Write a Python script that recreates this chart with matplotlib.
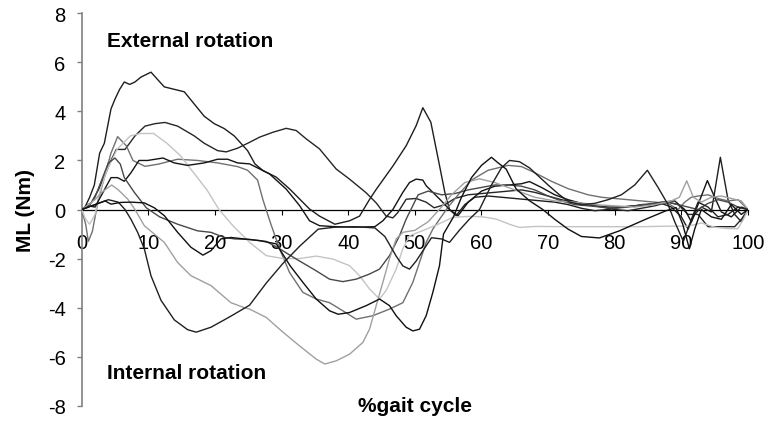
import matplotlib
matplotlib.use("Agg")
import matplotlib.pyplot as plt

plt.rcParams['font.family'] = ['Liberation Sans', 'DejaVu Sans']
plt.rcParams['axes.unicode_minus'] = False

# --- data (x = % gait cycle, y = ML in Nm) ---
a_x = [0, 0.5, 1.2, 1.9, 2.7, 3.4, 4.4, 5.0, 5.7, 6.4, 7.2, 8.0, 8.9, 10.4, 11.4, 12.4, 13.9, 15.4, 16.9, 18.4,
       19.9, 21.4, 22.9, 24.9, 26.0, 27.2, 29.2, 31.2, 32.7, 34.2, 35.7, 38.0, 40.2, 41.7, 43.2, 44.2, 46.7, 48.7,
       50.2, 51.2, 52.4, 53.7, 54.5, 55.2, 56.2, 57.5, 59.0, 61.0, 63.0, 65.0, 67.0, 69.0, 71.0, 73.0, 75.0, 77.0,
       79.0, 81.0, 83.0, 85.0, 87.0, 88.5, 90.0, 91.0, 92.0, 93.0, 94.5, 95.85, 97.0, 98.0, 99.0, 100]
a_y = [0, 0.1, 0.5, 1.0, 2.3, 2.7, 4.1, 4.5, 4.9, 5.2, 5.1, 5.2, 5.4, 5.6, 5.3, 5.0, 4.9, 4.8, 4.3, 3.8,
       3.5, 3.3, 3.0, 2.4, 1.86, 1.59, 1.32, 0.84, 0.43, 0.02, -0.27, -0.6, -0.46, -0.27, 0.41, 0.82, 1.77, 2.6,
       3.42, 4.15, 3.56, 1.8, 0.7, 0.0, -0.25, 0.2, 0.5, 0.55, 0.5, 0.45, 0.4, 0.35, 0.3, 0.2, 0.05, -0.05,
       0.0, 0.1, 0.15, 0.2, 0.25, 0.1, -0.3, -0.8, -0.2, 0.1, -0.1, 2.13, 0.4, -0.2, -0.5, 0]

b_x = [0, 1.5, 2.5, 3.5, 4.4, 5.2, 6.5, 8.0, 9.5, 11.0, 12.5, 14.4, 16.9, 18.4, 20.4, 21.7, 23.4, 25.2, 26.7,
       28.7, 30.7, 32.2, 33.7, 35.7, 38.2, 40.2, 42.7, 44.2, 45.7, 46.7, 47.4, 48.7, 50.2, 51.7, 52.9, 54.5,
       56.0, 58.0, 60.0, 62.0, 64.0, 66.0, 68.0, 70.0, 72.0, 74.0, 76.0, 78.0, 80.0, 82.0, 84.0, 86.0, 88.0,
       89.5, 91.0, 92.5, 94.0, 96.0, 98.0, 99.0, 100]
b_y = [0, 0.3, 0.8, 1.4, 2.0, 2.45, 2.45, 3.0, 3.4, 3.5, 3.55, 3.4, 3.0, 2.7, 2.4, 2.35, 2.5, 2.74, 2.95,
       3.15, 3.31, 3.22, 2.88, 2.47, 1.65, 1.24, 0.68, 0.27, -0.27, -0.34, -0.14, 0.42, 0.45, 0.3, 0.07, 0.2,
       0.45, 0.6, 0.65, 0.7, 0.75, 0.8, 0.7, 0.55, 0.4, 0.3, 0.2, 0.1, 0.0, -0.05, 0.05, 0.15, 0.3,
       0.2, -0.2, -0.2, -0.7, -0.7, -0.7, -0.4, 0]

c_x = [0, 0.6, 1.0, 1.6, 2.5, 3.5, 4.4, 5.4, 6.7, 7.7, 9.5, 11.5, 14.4, 17.4, 20.4, 23.4, 24.9, 26.4, 27.2,
       28.4, 29.7, 31.2, 33.2, 35.2, 37.2, 39.2, 41.2, 43.7, 46.2, 48.2, 49.7, 50.7, 51.7, 52.7, 53.7, 55.0,
       56.5, 58.5, 61.0, 64.0, 66.0, 68.0, 70.5, 73.0, 76.0, 78.0, 80.0, 82.0, 84.0, 86.0, 88.0, 89.5, 90.5,
       91.5, 92.5, 94.0, 95.5, 97.0, 98.5, 100]
c_y = [0, -0.6, -1.3, -0.9, 0.4, 1.4, 2.3, 2.97, 2.6, 2.0, 1.76, 1.85, 2.05, 2.0, 1.9, 1.75, 1.6, 1.2, 0.4,
       -0.6, -1.6, -2.57, -3.38, -3.65, -3.8, -4.13, -4.47, -4.33, -4.06, -3.8, -2.97, -2.16, -1.34, -0.8, -0.4, 0.1,
       0.6, 1.2, 1.6, 1.8, 1.75, 1.5, 1.15, 0.85, 0.6, 0.5, 0.45, 0.4, 0.35, 0.3, 0.25, 0.0, 0.3,
       0.5, 0.55, 0.6, 0.45, 0.35, 0.4, 0]

d_x = [0, 0.6, 1.2, 2.0, 2.8, 3.8, 5.3, 7.3, 8.8, 10.8, 12.8, 14.8, 16.8, 18.8, 20.6, 22.7, 25.2, 27.7, 30.2,
       32.7, 35.2, 37.7, 40.2, 41.7, 43.2, 44.7, 45.7, 47.2, 48.2, 49.2, 51.2, 53.5, 55.7, 58.2, 60.2, 62.2,
       64.2, 65.7, 68.2, 72.0, 76.0, 80.0, 84.0, 88.0, 91.0, 93.0, 95.0, 97.0, 98.5, 99.3, 100]
d_y = [0, -0.4, -0.6, -0.2, 0.8, 1.6, 2.45, 3.0, 3.1, 3.1, 2.7, 2.2, 1.5, 0.8, 0.0, -0.66, -1.34, -1.88, -2.0,
       -2.0, -1.9, -2.02, -2.29, -2.7, -3.24, -3.65, -3.3, -2.43, -1.6, -1.07, -0.86, -0.6, -0.32, -0.28, -0.3, -0.39,
       -0.6, -0.73, -0.69, -0.7, -0.7, -0.7, -0.7, -0.68, -0.68, -0.55, -0.72, -0.78, -0.78, -0.4, 0]

e_x = [0, 1.0, 2.0, 3.0, 4.4, 5.4, 6.4, 7.4, 8.6, 9.9, 12.2, 13.9, 15.9, 18.4, 20.4, 21.9, 23.4, 25.2, 28.2,
       30.7, 32.7, 34.2, 35.7, 38.0, 41.0, 44.0, 45.2, 46.7, 48.2, 49.2, 50.2, 51.2, 51.7, 53.7, 55.2, 56.5,
       58.0, 60.0, 62.0, 64.0, 66.0, 67.2, 69.0, 71.0, 73.0, 75.0, 77.0, 79.0, 81.0, 83.0, 85.0, 87.0, 89.0,
       90.5, 91.5, 92.5, 93.9, 95.0, 96.0, 97.5, 99.0, 100]
e_y = [0, 0.15, 0.1, 0.6, 1.3, 1.3, 1.15, 1.5, 2.0, 2.0, 2.1, 1.9, 1.8, 1.9, 2.05, 2.05, 1.9, 1.86, 1.45,
       0.83, 0.16, -0.46, -0.66, -0.7, -0.72, -0.7, -0.46, 0.0, 0.7, 1.1, 1.24, 1.2, 0.97, 0.43, 0.0, -0.25,
       0.3, 0.75, 0.95, 1.0, 1.05, 1.14, 0.9, 0.6, 0.4, 0.25, 0.15, 0.1, 0.1, 0.15, 0.2, 0.3, 0.35,
       0.0, -0.5, 0.2, 1.18, 0.5, -0.1, -0.3, 0.1, 0]

f_x = [0, 1.0, 2.0, 3.0, 4.0, 5.0, 5.8, 6.4, 7.9, 9.7, 11.7, 14.4, 17.4, 19.4, 21.4, 23.0, 25.2, 27.7, 29.7,
       32.2, 35.2, 37.2, 39.2, 41.2, 43.2, 44.7, 46.2, 47.7, 48.7, 49.7, 50.5, 52.0, 54.0, 56.0, 58.0, 60.0,
       62.0, 64.0, 66.0, 68.0, 70.0, 72.0, 74.0, 76.0, 78.0, 80.0, 82.0, 84.0, 86.0, 88.0, 89.5, 91.0, 92.5,
       94.0, 95.5, 97.0, 98.5, 100]
f_y = [0, 0.1, 0.5, 1.2, 1.9, 2.1, 1.85, 1.3, 0.7, 0.07, -0.3, -0.6, -0.87, -0.93, -1.14, -1.2, -1.22, -1.3, -1.6,
       -2.02, -2.5, -2.84, -2.94, -2.84, -2.63, -2.43, -1.88, -1.07, -0.39, 0.16, 0.6, 0.75, 0.6, 0.65, 0.8, 0.9,
       1.0, 1.0, 0.95, 0.8, 0.55, 0.35, 0.2, 0.15, 0.1, 0.05, 0.1, 0.2, 0.25, 0.3, 0.2, 0.1, 0.0,
       0.25, 0.4, 0.3, 0.1, 0]

g_x = [0, 1.0, 2.0, 3.0, 4.5, 5.5, 6.9, 8.0, 9.4, 10.9, 12.4, 14.4, 16.4, 19.4, 22.4, 24.4, 25.2, 27.7, 30.2,
       32.7, 35.2, 36.5, 38.2, 40.2, 42.2, 43.2, 44.2, 45.2, 46.2, 47.2, 48.2, 50.0, 52.0, 54.0, 55.5, 57.5,
       59.7, 62.0, 65.0, 68.0, 71.0, 74.0, 77.0, 80.0, 83.0, 86.0, 88.5, 89.7, 90.8, 91.8, 93.0, 94.5, 96.0,
       97.5, 99.0, 100]
g_y = [0, 0.2, 0.4, 0.7, 1.0, 0.8, 0.43, 0.0, -0.66, -1.0, -1.34, -2.16, -2.7, -3.1, -3.8, -4.0, -4.06, -4.4, -5.0,
       -5.56, -6.1, -6.3, -6.17, -5.9, -5.42, -4.88, -3.92, -2.97, -2.0, -1.2, -0.93, -0.85, -0.5, 0.1, 0.6, 1.1,
       1.25, 1.1, 0.8, 0.5, 0.35, 0.3, 0.2, 0.15, 0.1, 0.2, 0.35, 0.5, 1.17, 0.5, 0.3, 0.5, 0.55,
       0.45, 0.35, 0]

h_x = [0, 1.0, 2.0, 3.0, 4.0, 5.5, 6.5, 7.4, 8.4, 9.4, 10.4, 11.9, 13.9, 15.9, 17.2, 19.4, 21.4, 22.7, 25.2,
       27.7, 30.2, 32.7, 35.5, 38.0, 41.0, 44.0, 45.5, 47.2, 48.2, 49.2, 50.2, 51.7, 52.5, 54.0, 55.2, 56.7,
       58.2, 59.7, 61.5, 63.0, 64.2, 65.7, 67.2, 68.2, 70.0, 71.7, 73.2, 75.0, 77.0, 79.0, 81.0, 83.0, 84.9,
       86.5, 88.0, 89.0, 90.3, 91.5, 92.5, 94.0, 95.5, 97.0, 98.5, 100]
h_y = [0, 0.1, 0.2, 0.3, 0.4, 0.3, 0.0, -0.4, -0.93, -1.6, -2.7, -3.7, -4.5, -4.9, -5.0, -4.8, -4.5, -4.3, -3.9,
       -3.0, -2.2, -1.5, -0.8, -0.72, -0.7, -0.75, -1.1, -1.9, -2.3, -2.43, -2.1, -1.48, -1.15, -1.2, -1.34, -0.84,
       -0.39, 0.0, 1.0, 1.7, 2.0, 1.95, 1.7, 1.45, 1.0, 0.6, 0.3, 0.2, 0.25, 0.4, 0.6, 1.0, 1.6,
       0.9, 0.2, -0.5, -1.3, -0.4, 0.3, 0.1, -0.3, -0.2, 0.1, 0]

i_x = [0, 1.0, 2.0, 3.5, 4.4, 5.9, 7.5, 9.4, 10.9, 12.4, 14.4, 16.4, 18.2, 19.4, 20.9, 22.4, 24.4, 26.7, 29.2,
       31.3, 33.2, 35.2, 37.2, 38.5, 40.2, 42.7, 44.7, 46.2, 47.2, 48.7, 49.7, 50.7, 51.7, 52.7, 53.7, 54.3,
       55.8, 57.0, 58.5, 60.0, 61.5, 62.5, 63.7, 65.2, 67.2, 69.2, 71.0, 73.0, 75.0, 77.7, 80.7, 84.7, 87.7,
       89.2, 90.2, 91.2, 92.0, 93.0, 94.5, 96.0, 97.5, 99.0, 100]
i_y = [0, 0.1, 0.2, 0.35, 0.22, 0.29, 0.3, 0.27, 0.07, -0.25, -0.93, -1.54, -1.86, -1.68, -1.2, -1.14, -1.2, -1.27, -1.4,
       -2.3, -2.97, -3.65, -4.13, -4.27, -4.2, -3.92, -3.65, -3.92, -4.33, -4.8, -4.95, -4.88, -4.33, -3.38, -2.29, -1.0,
       -0.3, 0.5, 1.3, 1.8, 2.13, 1.9, 1.65, 0.84, 0.36, 0.0, -0.4, -0.8, -1.1, -1.16, -0.87, -0.39, -0.05,
       0.08, -0.6, -1.6, -0.8, 0.0, -0.3, -0.4, 0.2, -0.2, 0]

series = [(a_x, a_y, '#1e1e1e'), (b_x, b_y, '#262626'), (c_x, c_y, '#707070'),
          (d_x, d_y, '#c4c4c4'), (e_x, e_y, '#141414'), (f_x, f_y, '#484848'),
          (g_x, g_y, '#a0a0a0'), (h_x, h_y, '#202020'), (i_x, i_y, '#101010')]

fig = plt.figure(figsize=(7.69, 4.27), dpi=100)
ax = fig.add_axes([0.1062, 0.0475, 0.8665, 0.919])

for xs, ys, col in series:
    ax.plot(xs, ys, color=col, lw=1.0, zorder=3)

ax.set_xlim(0, 100)
ax.set_ylim(-8, 8)
ax.set_xticks(range(0, 101, 10))
ax.set_yticks(range(-8, 9, 2))

ax.spines['top'].set_visible(False)
ax.spines['right'].set_visible(False)
ax.spines['bottom'].set_position(('data', 0))
ax.spines['bottom'].set_color('black')
ax.spines['bottom'].set_linewidth(0.9)
ax.spines['left'].set_color('#808080')
ax.spines['left'].set_linewidth(1.2)

ax.tick_params(axis='x', direction='out', length=3.6, width=0.8, color='black',
               labelsize=14.5, pad=13)
ax.tick_params(axis='y', direction='out', length=3.6, width=1.0, color='#808080',
               labelsize=14.5, pad=8)

ax.text(3.8, 6.88, 'External rotation', fontsize=15, fontweight='bold', va='center', ha='left')
ax.text(3.8, -6.63, 'Internal rotation', fontsize=15, fontweight='bold', va='center', ha='left')
ax.text(50, -8.0, '%gait cycle', fontsize=15, fontweight='bold', va='center', ha='center')
fig.text(0.033, 0.508, 'ML (Nm)', rotation=90, fontsize=15, fontweight='bold', va='center', ha='center')

fig.savefig('out.png', dpi=100)
